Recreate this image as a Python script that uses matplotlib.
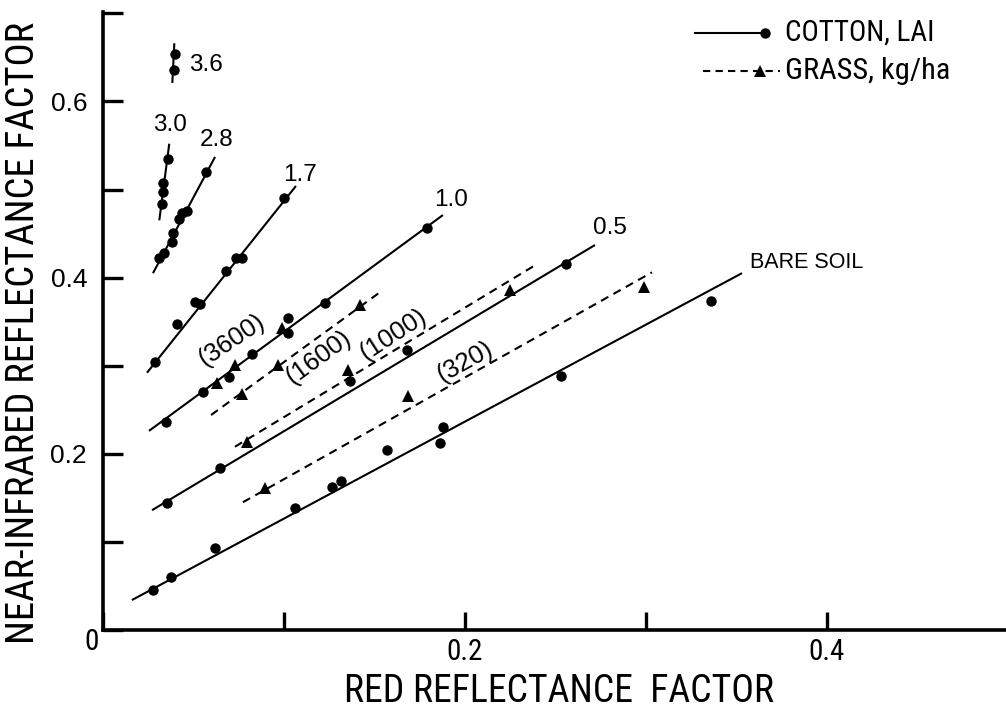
import matplotlib
matplotlib.use('Agg')
import matplotlib.pyplot as plt
from matplotlib import font_manager as fm


def find_narrow():
    # look for any installed condensed / narrow regular face
    prefer = ['liberationsansnarrow', 'robotocondensed', 'dejavusanscondensed',
              'notosans', 'opensans', 'lato', 'inter']
    bad = ['bold', 'light', 'italic', 'oblique', 'medium', 'thin', 'black',
           'semi', 'extra', 'ultra', 'mono', 'serif', 'cjk']
    found = []
    for f in fm.fontManager.ttflist:
        low = f.fname.lower().replace('-', '').replace('_', '')
        if not ('condensed' in low or 'narrow' in low):
            continue
        if any(b in low.split('/')[-1] for b in bad):
            continue
        rank = next((i for i, p in enumerate(prefer) if p in low), len(prefer))
        found.append((rank, f.fname))
    if found:
        return fm.FontProperties(fname=sorted(found)[0][1])
    return fm.FontProperties(family=['Liberation Sans', 'DejaVu Sans'])


NARROW = find_narrow()
SANS = ['Liberation Sans', 'DejaVu Sans']

# cotton, leaf area index groups: measured points and fitted lines
lai_names = ['3.6', '3.0', '2.8', '1.7', '1.0', '0.5', 'BARE SOIL']

lai36_red = [0.0398, 0.0392]
lai36_nir = [0.654, 0.636]
lai36_fit_red = [0.0383, 0.0394]
lai36_fit_nir = [0.621, 0.666]

lai30_red = [0.0359, 0.0331, 0.0331, 0.0326]
lai30_nir = [0.535, 0.507, 0.497, 0.484]
lai30_fit_red = [0.0311, 0.0366]
lai30_fit_nir = [0.465, 0.552]

lai28_red = [0.0569, 0.0464, 0.0436, 0.0420, 0.0387, 0.0381, 0.0337, 0.0309]
lai28_nir = [0.520, 0.476, 0.473, 0.467, 0.451, 0.440, 0.428, 0.422]
lai28_fit_red = [0.0276, 0.0619]
lai28_fit_nir = [0.405, 0.537]

lai17_red = [0.1000, 0.0768, 0.0735, 0.0680, 0.0536, 0.0508, 0.0409, 0.0287]
lai17_nir = [0.490, 0.422, 0.422, 0.408, 0.370, 0.372, 0.347, 0.304]
lai17_fit_red = [0.0243, 0.1066]
lai17_fit_nir = [0.292, 0.504]

lai10_red = [0.0348, 0.0552, 0.0696, 0.0823, 0.1022, 0.1022, 0.1227, 0.1790]
lai10_nir = [0.236, 0.270, 0.287, 0.313, 0.354, 0.337, 0.371, 0.456]
lai10_fit_red = [0.0254, 0.1878]
lai10_fit_nir = [0.226, 0.471]

lai05_red = [0.0354, 0.0646, 0.1365, 0.1680, 0.2558]
lai05_nir = [0.144, 0.184, 0.283, 0.318, 0.415]
lai05_fit_red = [0.0271, 0.2718]
lai05_fit_nir = [0.136, 0.437]

soil_red = [0.0276, 0.0376, 0.0619, 0.1061, 0.1265, 0.1315, 0.1569, 0.1862,
            0.1878, 0.2530, 0.3359]
soil_nir = [0.045, 0.060, 0.093, 0.139, 0.162, 0.169, 0.204, 0.212, 0.230,
            0.288, 0.373]
soil_fit_red = [0.0160, 0.3530]
soil_fit_nir = [0.034, 0.405]

# grass, biomass kg/ha
grass_names = ['(3600)', '(1600)', '(1000)', '(320)']

g3600_red = [0.0630, 0.0729, 0.0989]
g3600_nir = [0.280, 0.301, 0.343]

g1600_red = [0.0768, 0.0967, 0.1420]
g1600_nir = [0.268, 0.301, 0.369]
g1600_fit_red = [0.0597, 0.1541]
g1600_fit_nir = [0.244, 0.385]

g1000_red = [0.0796, 0.1354, 0.2249]
g1000_nir = [0.213, 0.295, 0.386]
g1000_fit_red = [0.0729, 0.2387]
g1000_fit_nir = [0.208, 0.414]

g320_red = [0.0895, 0.1685, 0.2989]
g320_nir = [0.161, 0.266, 0.389]
g320_fit_red = [0.0773, 0.3033]
g320_fit_nir = [0.145, 0.406]

x_ticks = [0.0, 0.1, 0.2, 0.3, 0.4]
x_ticklabels = ['', '', '0.2', '', '0.4']
y_ticks = [0.0, 0.1, 0.2, 0.3, 0.4, 0.5, 0.6, 0.7]
y_ticklabels = ['', '', '0.2', '', '0.4', '', '0.6', '']

cotton = [
    (lai36_red, lai36_nir, lai36_fit_red, lai36_fit_nir),
    (lai30_red, lai30_nir, lai30_fit_red, lai30_fit_nir),
    (lai28_red, lai28_nir, lai28_fit_red, lai28_fit_nir),
    (lai17_red, lai17_nir, lai17_fit_red, lai17_fit_nir),
    (lai10_red, lai10_nir, lai10_fit_red, lai10_fit_nir),
    (lai05_red, lai05_nir, lai05_fit_red, lai05_fit_nir),
    (soil_red, soil_nir, soil_fit_red, soil_fit_nir),
]
grass = [
    (g3600_red, g3600_nir, None, None),
    (g1600_red, g1600_nir, g1600_fit_red, g1600_fit_nir),
    (g1000_red, g1000_nir, g1000_fit_red, g1000_fit_nir),
    (g320_red, g320_nir, g320_fit_red, g320_fit_nir),
]

fig = plt.figure(figsize=(10.06, 7.10), dpi=100)
ax = fig.add_axes([0.1024, 0.1127, 0.8976, 0.8704])
renderer = fig.canvas.get_renderer()


def narrow_size(s, width_px):
    # font size that makes s about width_px wide in the narrow face
    p = NARROW.copy()
    p.set_size(20)
    w, _, _ = renderer.get_text_width_height_descent(s, p, ismath=False)
    return 20 * width_px / w


def nprop(size):
    p = NARROW.copy()
    p.set_size(size)
    return p


lw = 1.5
for red, nir, fr, fn in cotton:
    ax.plot(fr, fn, color='black', lw=lw, solid_capstyle='butt')
    ax.plot(red, nir, 'o', color='black', ms=7.5, mew=0)

for red, nir, fr, fn in grass:
    if fr is not None:
        ax.plot(fr, fn, color='black', lw=lw, dashes=(4, 2.8))
    ax.plot(red, nir, '^', color='black', ms=8.5, mew=0)

# labels along the curves
lai_pos = [(0.0569, 0.641), (0.0370, 0.573), (0.0630, 0.556), (0.1088, 0.5165),
           (0.1923, 0.488), (0.2801, 0.4563)]
for name, (x, y) in zip(lai_names[:-1], lai_pos):
    ax.text(x, y, name, ha='center', va='center', fontsize=17.5, family=SANS)
ax.text(0.3575, 0.4177, lai_names[-1], ha='left', va='center', fontsize=15.5,
        family=SANS)

grass_pos = [(0.0713, 0.329, 34), (0.1188, 0.310, 36), (0.1602, 0.335, 33),
             (0.2000, 0.304, 29)]
for name, (x, y, rot) in zip(grass_names, grass_pos):
    ax.text(x, y, name, ha='center', va='center', rotation=rot,
            rotation_mode='anchor', fontsize=18.5, family=SANS)

# legend drawn by hand: line then marker at its end
ax.plot([0.6556, 0.7353], [0.966, 0.966], color='black', lw=lw,
        transform=ax.transAxes, clip_on=False)
ax.plot([0.7331], [0.966], 'o', color='black', ms=7.5, mew=0,
        transform=ax.transAxes, clip_on=False)
ax.text(0.7553, 0.966, 'COTTON, LAI', transform=ax.transAxes, ha='left',
        va='center', fontproperties=nprop(narrow_size('COTTON, LAI', 150)))
ax.plot([0.6645, 0.7497], [0.9045, 0.9045], color='black', lw=lw,
        dashes=(3.5, 2.5), transform=ax.transAxes, clip_on=False)
ax.plot([0.7276], [0.9045], '^', color='black', ms=8.5, mew=0,
        transform=ax.transAxes, clip_on=False)
ax.text(0.7553, 0.9045, 'GRASS, kg/ha', transform=ax.transAxes, ha='left',
        va='center', fontproperties=nprop(narrow_size('GRASS, kg/ha', 165)))

ax.set_xlim(0, 0.4989)
ax.set_ylim(0, 0.7015)
ax.spines['top'].set_visible(False)
ax.spines['right'].set_visible(False)
for s in ('left', 'bottom'):
    ax.spines[s].set_linewidth(2.6)

tick_size = 21
ax.set_xticks(x_ticks)
ax.set_xticklabels(x_ticklabels, fontproperties=nprop(tick_size))
ax.set_yticks(y_ticks)
ax.set_yticklabels(y_ticklabels, family=SANS, fontsize=19)
ax.tick_params(axis='y', direction='in', length=14.4, width=2.4, pad=11.5)
ax.tick_params(axis='x', direction='in', length=13, width=2.4, pad=6)
ax.annotate('0', xy=(0, 0), xytext=(-8, -9), textcoords='offset points',
            ha='center', va='center', fontproperties=nprop(tick_size),
            annotation_clip=False)

xlab = 'RED REFLECTANCE  FACTOR'
ylab = 'NEAR-INFRARED REFLECTANCE FACTOR'
ax.set_xlabel(xlab, fontproperties=nprop(narrow_size(xlab, 430)))
ax.set_ylabel(ylab, fontproperties=nprop(narrow_size(ylab, 622)))
ax.xaxis.set_label_coords(0.505, -0.069)
ax.yaxis.set_label_coords(-0.068, 0.48)

fig.savefig('out.png', dpi=100)
